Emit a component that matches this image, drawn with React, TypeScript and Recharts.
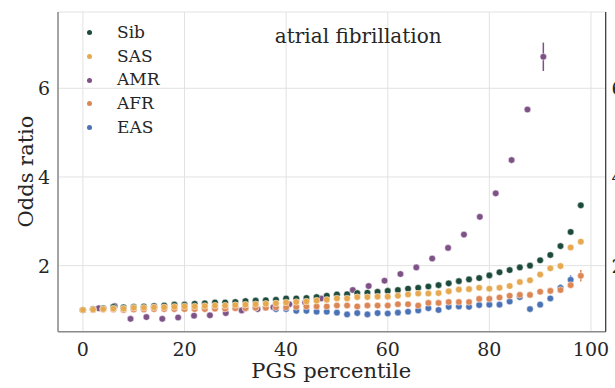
import React from 'react';
import { ScatterChart, Scatter, XAxis, YAxis, CartesianGrid, ErrorBar, Legend } from 'recharts';

const FONT = '"DejaVu Serif", serif';
const TEXT = '#262626';

// percentile bins (Sib, SAS, AFR, EAS use 2-pt steps, AMR uses 32 bins)
const percentiles = [
  0, 2, 4, 6, 8, 10, 12, 14, 16, 18, 20, 22, 24, 26, 28, 30, 32, 34, 36, 38, 40, 42, 44, 46, 48,
  50, 52, 54, 56, 58, 60, 62, 64, 66, 68, 70, 72, 74, 76, 78, 80, 82, 84, 86, 88, 90, 92, 94, 96, 98,
];
const amrPercentiles = [
  0, 3.125, 6.25, 9.375, 12.5, 15.625, 18.75, 21.875, 25, 28.125, 31.25, 34.375, 37.5, 40.625, 43.75,
  46.875, 50, 53.125, 56.25, 59.375, 62.5, 65.625, 68.75, 71.875, 75, 78.125, 81.25, 84.375, 87.5, 90.625,
];

const sib = [
  1.0, 1.02, 1.04, 1.07, 1.06, 1.07, 1.08, 1.09, 1.1, 1.12, 1.12, 1.14,
  1.15, 1.17, 1.17, 1.18, 1.2, 1.21, 1.22, 1.23, 1.26, 1.26, 1.27, 1.29,
  1.32, 1.35, 1.355, 1.38, 1.39, 1.41, 1.43, 1.45, 1.48, 1.5, 1.53, 1.56, 1.6,
  1.65, 1.69, 1.72, 1.78, 1.85, 1.9, 1.96, 2.0, 2.12, 2.24, 2.44, 2.76, 3.36,
];
const sas = [
  1.0, 1.01, 1.02, 1.03, 1.03, 1.05, 1.05, 1.06, 1.06, 1.07, 1.08, 1.08,
  1.09, 1.1, 1.1, 1.11, 1.12, 1.13, 1.14, 1.15, 1.17, 1.18, 1.19, 1.21,
  1.23, 1.26, 1.26, 1.29, 1.29, 1.3, 1.3, 1.32, 1.35, 1.37, 1.37, 1.38, 1.42,
  1.46, 1.47, 1.5, 1.48, 1.5, 1.54, 1.63, 1.67, 1.8, 1.94, 1.99, 2.41, 2.54,
];
const amr = [
  1.0, 1.04, 1.09, 0.8, 0.84, 0.8, 0.83, 0.87, 0.88, 0.93, 0.99, 1.02, 1.06, 1.13, 1.17,
  1.26, 1.34, 1.45, 1.54, 1.66, 1.81, 1.96, 2.16, 2.4, 2.7, 3.1, 3.63, 4.38, 5.52, 6.71,
];
const afr = [
  1.0, 1.0, 1.01, 1.01, 1.0, 1.01, 1.01, 1.02, 1.02, 1.02, 1.02, 1.02,
  1.02, 1.03, 1.03, 1.04, 1.04, 1.05, 1.05, 1.06, 1.06, 1.07, 1.08, 1.08,
  1.08, 1.1, 1.1, 1.08, 1.1, 1.1, 1.1, 1.13, 1.13, 1.1, 1.16, 1.16, 1.18,
  1.18, 1.18, 1.25, 1.25, 1.28, 1.32, 1.34, 1.34, 1.41, 1.43, 1.45, 1.56, 1.77,
];
const eas = [
  1.0, 1.01, 1.03, 1.06, 1.02, 1.03, 1.03, 1.05, 1.05, 1.04, 1.04, 1.04,
  1.05, 1.05, 1.04, 1.05, 1.04, 1.05, 1.05, 1.02, 1.02, 0.98, 0.98, 0.96,
  0.96, 0.94, 0.9, 0.93, 0.9, 0.93, 0.92, 0.94, 0.96, 0.99, 1.04, 1.0, 1.07,
  1.08, 1.07, 1.11, 1.12, 1.12, 1.19, 1.29, 1.02, 1.12, 1.26, 1.5, 1.68, null,
];

// visible error bars (index -> half width)
const amrErr: Record<number, number> = { 29: 0.32 };
const afrErr: Record<number, number> = { 49: 0.13 };
const easErr: Record<number, number> = { 47: 0.08, 48: 0.1 };

const xTicks = [0, 20, 40, 60, 80, 100];
const yTicks = [2, 4, 6];

const COLORS = {
  Sib: '#1d4b3b',
  SAS: '#e6a950',
  AMR: '#7e5187',
  AFR: '#dc8655',
  EAS: '#4a72b4',
};

const rows = (xs: number[], ys: (number | null)[], errs: Record<number, number> = {}) =>
  xs
    .map((x, i) => ({ x, y: ys[i], err: errs[i] ?? 0 }))
    .filter((r) => r.y != null);

const legendItems = ['Sib', 'SAS', 'AMR', 'AFR', 'EAS'] as const;

const dot = (color: string) => (props: any) => (
  <circle cx={props.cx} cy={props.cy} r={3.3} fill={color} stroke="#ffffff" strokeWidth={0.5} />
);

function LegendBox() {
  return (
    <div style={{ fontFamily: FONT, fontSize: 17, color: TEXT }}>
      {legendItems.map((name) => (
        <div key={name} style={{ height: 23.7, lineHeight: '23.7px', position: 'relative', whiteSpace: 'nowrap' }}>
          <span
            style={{
              position: 'absolute',
              left: 1.5,
              top: 9.3,
              width: 5,
              height: 5,
              borderRadius: '50%',
              background: COLORS[name],
            }}
          />
          <span style={{ position: 'absolute', left: 32, top: 0 }}>{name}</span>
        </div>
      ))}
    </div>
  );
}

export default function App() {
  const series = [
    { name: 'AMR', data: rows(amrPercentiles, amr, amrErr) },
    { name: 'EAS', data: rows(percentiles, eas, easErr) },
    { name: 'AFR', data: rows(percentiles, afr, afrErr) },
    { name: 'Sib', data: rows(percentiles, sib) },
    { name: 'SAS', data: rows(percentiles, sas) },
  ] as const;

  return (
    <div style={{ position: 'absolute', left: 0, top: 0, width: 615, height: 388, background: '#fff' }}>
      <ScatterChart width={615} height={388} margin={{ top: 12, right: 0, bottom: 0, left: 0 }}>
        <CartesianGrid stroke="#e2e2e2" strokeWidth={1} />
        <XAxis
          type="number"
          dataKey="x"
          domain={[-4.9, 102.9]}
          ticks={xTicks}
          allowDataOverflow
          height={56.3}
          axisLine={{ stroke: '#8a8a8a', strokeWidth: 1.5 }}
          tickLine={false}
          tick={(p: any) => (
            <text x={p.x} y={355.5} textAnchor="middle" fontSize={19} fontFamily={FONT} fill={TEXT}>
              {p.payload.value}
            </text>
          )}
        />
        <YAxis
          type="number"
          dataKey="y"
          domain={[0.51, 7.72]}
          ticks={yTicks}
          allowDataOverflow
          width={58}
          axisLine={{ stroke: '#8a8a8a', strokeWidth: 1.5 }}
          tickLine={false}
          tick={(p: any) => (
            <text x={50} y={p.y + 7} textAnchor="end" fontSize={19} fontFamily={FONT} fill={TEXT}>
              {p.payload.value}
            </text>
          )}
        />
        <YAxis
          yAxisId="r"
          orientation="right"
          type="number"
          domain={[0.51, 7.72]}
          ticks={yTicks}
          allowDataOverflow
          width={9.3}
          axisLine={{ stroke: '#333333', strokeWidth: 1.2 }}
          tickLine={false}
          tick={(p: any) => (
            <text x={611.5} y={p.y + 7} textAnchor="start" fontSize={19} fontFamily={FONT} fill={TEXT}>
              {p.payload.value}
            </text>
          )}
        />
        {series.map((s) => (
          <Scatter
            key={s.name}
            name={s.name}
            data={s.data as any}
            fill={COLORS[s.name]}
            shape={dot(COLORS[s.name])}
            isAnimationActive={false}
          >
            <ErrorBar
              dataKey="err"
              direction="y"
              width={0}
              stroke={COLORS[s.name]}
              strokeWidth={1.5}
              isAnimationActive={false}
            />
          </Scatter>
        ))}
        <Legend
          layout="vertical"
          align="center"
          verticalAlign="middle"
          content={() => <LegendBox />}
          wrapperStyle={{ left: 85, top: 21, width: 120, height: 120 }}
        />
        <text x={358.2} y={42.5} textAnchor="middle" fontSize={20} fontFamily={FONT} fill={TEXT}>
          atrial fibrillation
        </text>
        <text
          transform="translate(33,171.5) rotate(-90)"
          textAnchor="middle"
          fontSize={21}
          fontFamily={FONT}
          fill={TEXT}
        >
          Odds ratio
        </text>
        <text x={331.3} y={377.5} textAnchor="middle" fontSize={21} fontFamily={FONT} fill={TEXT}>
          PGS percentile
        </text>
      </ScatterChart>
    </div>
  );
}
